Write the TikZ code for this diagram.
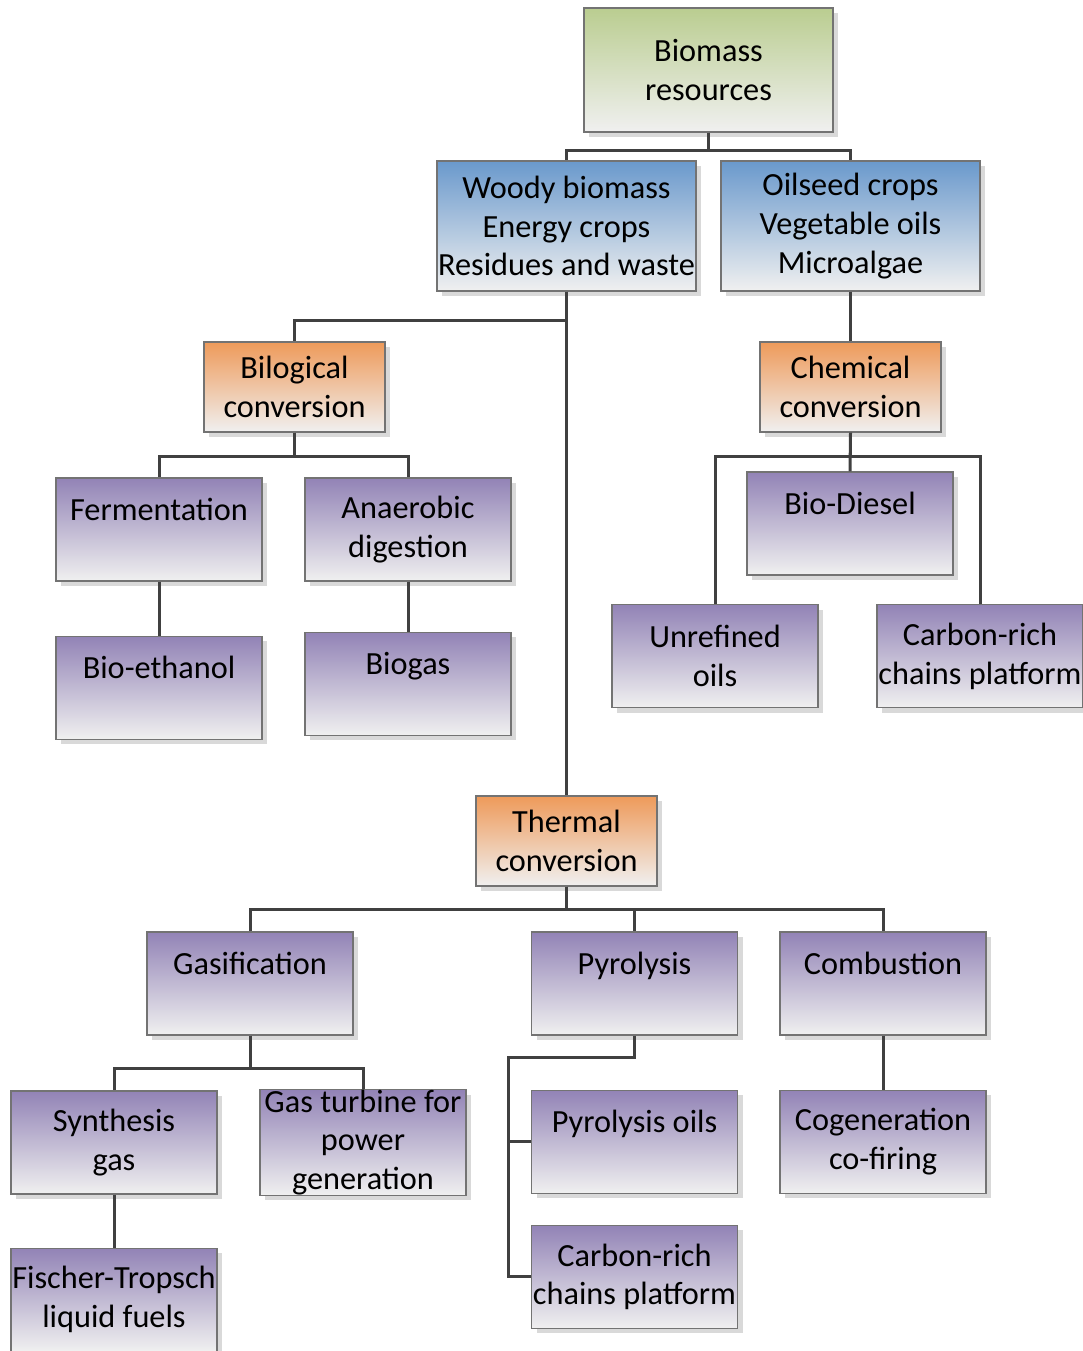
\documentclass[tikz,border=0pt]{standalone}
\usepackage{fontspec}
\setmainfont{Carlito}
\usetikzlibrary{positioning, shadows}
\definecolor{rootgreen}{RGB}{186,205,144}
\definecolor{feedblue}{RGB}{106,153,204}
\definecolor{routeorange}{RGB}{238,154,90}
\definecolor{prodpurple}{RGB}{146,131,182}
\definecolor{boxlow}{RGB}{240,240,240}
\tikzset{
box/.style={shape=rectangle, draw=black!55, line width=1.2pt, align=center, inner sep=0pt, font=\fontsize{32.3}{38.8}\selectfont, bottom color=boxlow, drop shadow={shadow xshift=5pt, shadow yshift=-5pt, fill=black!15, opacity=1}},
root/.style={box, top color=rootgreen, minimum width=249pt, minimum height=124pt},
feed/.style={box, top color=feedblue, minimum width=259pt, minimum height=130pt},
route/.style={box, top color=routeorange, minimum width=181pt, minimum height=90pt},
product/.style={box, top color=prodpurple, minimum width=206pt, minimum height=103pt},
link/.style={draw=black!75, line width=3pt}}

\begin{document}
\begin{tikzpicture}[x=1pt, y=-1pt]
\useasboundingbox (0,0) rectangle (1083,1351);
\node [root] (bio) at (708.5,70) {Biomass\\resources};
\node [feed] (woody) at (566.5,226) {Woody biomass\\Energy crops\\Residues and waste};
\node [feed] (oil) at (850.5,226) {Oilseed crops\\Vegetable oils\\Microalgae};
\node [route] (biol) at (294.5,387) {Bilogical\\conversion};
\node [route] (chem) at (850.5,387) {Chemical\\conversion};
\node [route] (therm) at (566.5,841) {Thermal\\conversion};
% biological branch
\node [product] (ferm) at (159,529.5) {Fermentation\\[-10pt]\strut};
\node [product] (anae) at (408,529.5) {Anaerobic\\digestion};
\node [product, below=54pt of ferm] (ethan) {Bio-ethanol\\[-10pt]\strut};
\node [product, below=50pt of anae] (biogas) {Biogas\\[-10pt]\strut};
% chemical branch
\node [product] (diesel) at (850,523.5) {Bio-Diesel\\[-10pt]\strut};
\node [product] (unref) at (715,656) {Unrefined\\oils};
\node [product] (carbA) at (980,656) {Carbon-rich\\chains platform};
% thermal branch
\node [product] (gasif) at (250,983.5) {Gasification\\[-10pt]\strut};
\node [product] (pyro) at (634.5,983.5) {Pyrolysis\\[-10pt]\strut};
\node [product] (comb) at (883,983.5) {Combustion\\[-10pt]\strut};
\node [product] (syn) at (114,1142.5) {Synthesis\\gas};
\node [product] (turb) at (363,1142.5) {Gas turbine for\\power\\generation};
\node [product, below=53pt of syn] (ft) {Fischer-Tropsch\\liquid fuels};
\node [product, below=54pt of pyro] (pyoil) {Pyrolysis oils\\[-10pt]\strut};
\node [product, below=31pt of pyoil] (carbB) {Carbon-rich\\chains platform};
\node [product, below=54pt of comb] (cogen) {Cogeneration\\co-firing};
\draw [link] (bio.south) -- ++(0,18) -| (woody.north);
\draw [link] (bio.south) -- ++(0,18) -| (oil.north);
\draw [link] (woody.south) -- (therm.north);
\draw [link] (woody.south) -- ++(0,29) -| (biol.north);
\draw [link] (oil.south) -- (chem.north);
\draw [link] (biol.south) -- ++(0,24) -| (ferm.north);
\draw [link] (biol.south) -- ++(0,24) -| (anae.north);
\draw [link] (ferm.south) -- (ethan.north);
\draw [link] (anae.south) -- (biogas.north);
\draw [link] (chem.south) -- (diesel.north);
\draw [link] (chem.south) -- ++(0,24) -| (unref.north);
\draw [link] (chem.south) -- ++(0,24) -| (carbA.north);
\draw [link] (therm.south) -- ++(0,23) -| (gasif.north);
\draw [link] (therm.south) -- ++(0,23) -| (pyro.north);
\draw [link] (therm.south) -- ++(0,23) -| (comb.north);
\draw [link] (gasif.south) -- ++(0,33) -| (syn.north);
\draw [link] (gasif.south) -- ++(0,33) -| (turb.north);
\draw [link] (syn.south) -- (ft.north);
\draw [link] (pyro.south) -- ++(0,22) -| ([xshift=-22pt]carbB.west) -- (carbB.west);
\draw [link] (pyoil.west) -- ++(-22,0);
\draw [link] (comb.south) -- (cogen.north);
\end{tikzpicture}
\end{document}
